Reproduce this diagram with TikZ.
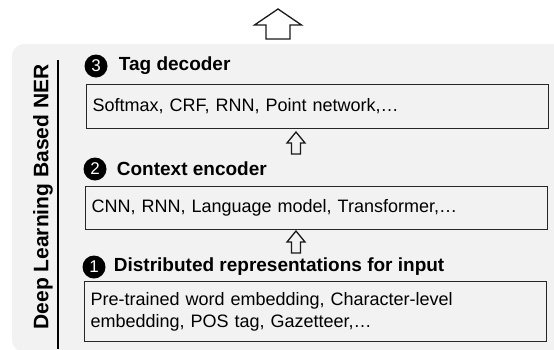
\documentclass[tikz,border=0pt]{standalone}
\usepackage{fontspec}
\setmainfont{Liberation Sans}
\usetikzlibrary{positioning}

\tikzset{
  layerbox/.style={draw=black!85, line width=1.2pt, anchor=north west, text width=450pt,
    inner xsep=6pt, inner ysep=0pt, align=left, font=\fontsize{18}{21.5}\selectfont},
  num/.style={circle, fill=black, text=white, inner sep=0pt, minimum size=23pt,
    font=\fontsize{17}{17}\selectfont},
  head/.style={inner sep=0pt, font=\bfseries\fontsize{19}{22}\selectfont},
  blk/.style={draw=black!90, line width=1.3pt, line join=miter}
}

\begin{document}
\begin{tikzpicture}[x=1pt, y=-1pt]
      \useasboundingbox (0,0) rectangle (554,349);
      \clip (0,0) rectangle (554,349);
      % grey panel
      \fill[black!5, rounded corners=12pt] (12,44) rectangle (620,352);
      \draw[line width=1.3pt] (58,60) -- (58,349);
      \node[rotate=90, font=\bfseries\fontsize{21}{21}\selectfont] (side) at (43,197) {Deep Learning Based NER};
      % big arrow on top
      \coordinate (top) at (278,9);
      \draw[blk] (top) -- ++(23.5,16) -- ++(-11.5,0) -- ++(0,14) -- ++(-24,0) -- ++(0,-14) -- ++(-11.5,0) -- cycle;
      % layers
      \node[num] (n3) at (96,66) {3};
      \node[head, right=11pt of n3] (h3) {Tag decoder};
      \node[layerbox, minimum height=44pt] (b3) at (86,84) {Softmax, CRF, RNN, Point network,…};
      \node[num] (n2) at (95,169) {2};
      \node[head, right=10pt of n2] (h2) {Context encoder};
      \node[layerbox, minimum height=43pt] (b2) at (85,186) {CNN, RNN, Language model, Transformer,…};
      \node[num] (n1) at (94,267) {1};
      \node[head, right=8pt of n1] (h1) {Distributed representations for input};
      \node[layerbox, minimum height=60pt] (b1) at (84,281) {Pre-trained word embedding, Character-level\\embedding, POS tag, Gazetteer,…};
      % small arrows
      \foreach \t in {132,231}
      \draw[blk] (296,\t) -- ++(9,11) -- ++(-4.5,0) -- ++(0,11) -- ++(-9,0) -- ++(0,-11) -- ++(-4.5,0) -- cycle;
    \end{tikzpicture}
\end{document}
